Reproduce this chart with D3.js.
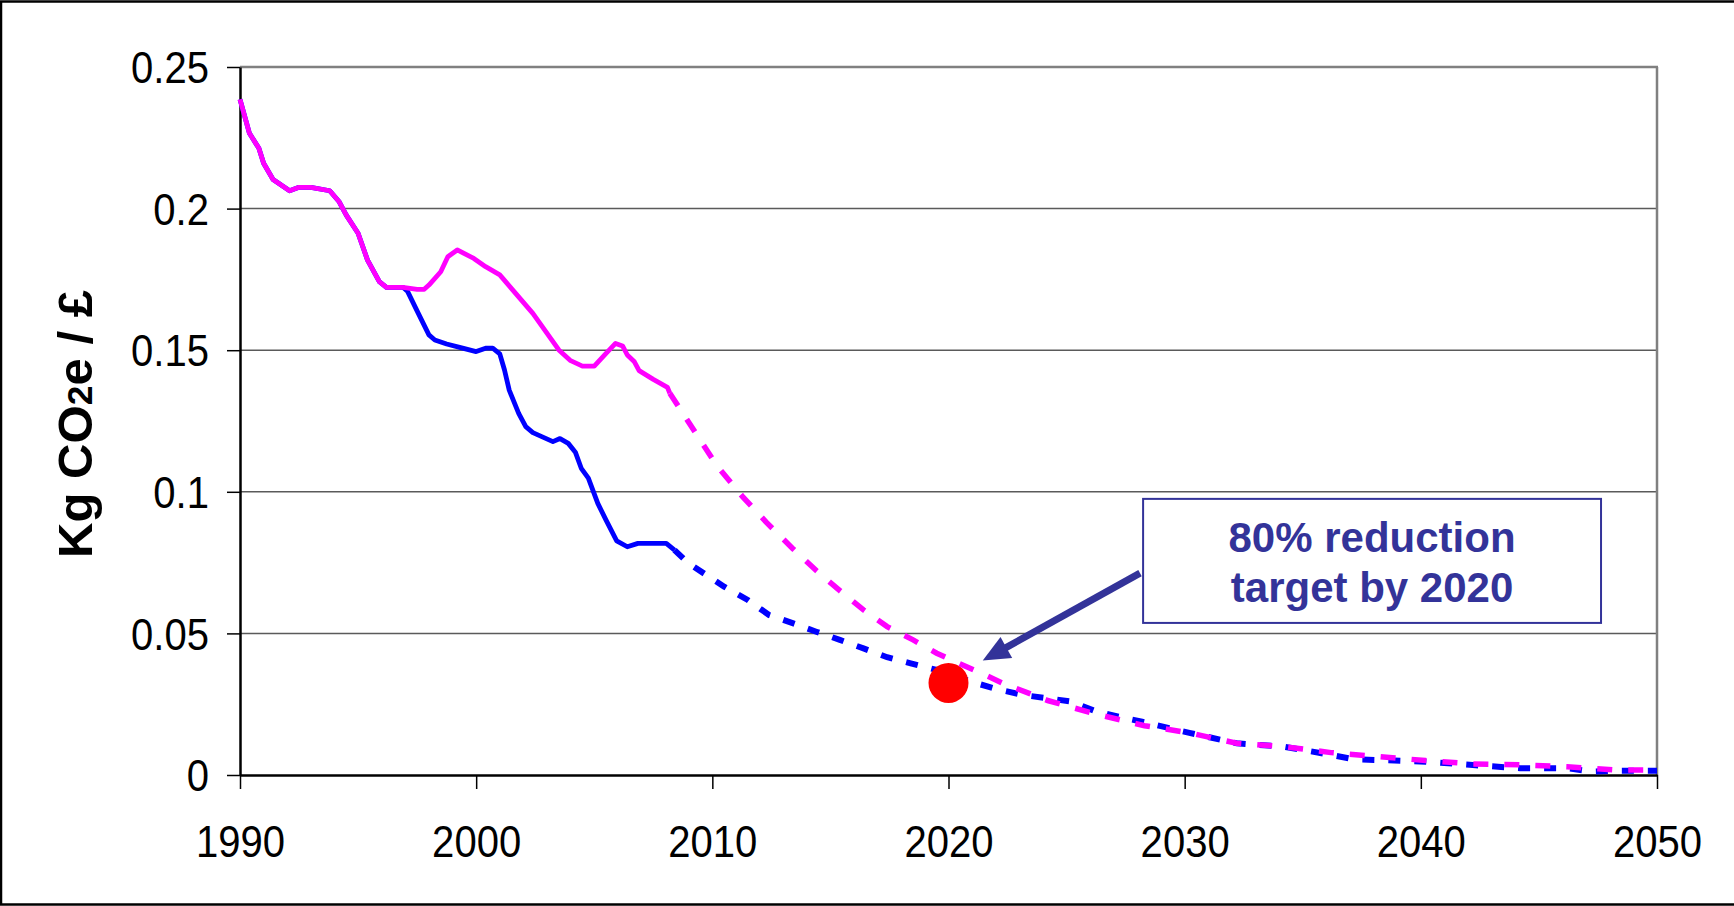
<!DOCTYPE html>
<html><head><meta charset="utf-8">
<script src="https://cdn.jsdelivr.net/npm/d3@7"></script>
<style>html,body{margin:0;padding:0;background:#fff;overflow:hidden}</style>
</head><body>
<svg id="chart" width="1734" height="906"></svg>
<script>
// ---- data ----
const xTicks = [1990, 2000, 2010, 2020, 2030, 2040, 2050];
const yTicks = [0, 0.05, 0.1, 0.15, 0.2, 0.25];
const yTickLabels = ["0", "0.05", "0.1", "0.15", "0.2", "0.25"];

const magentaHistYears = [1990.0,1990.4,1990.8,1991.0,1991.4,1992.1,1992.5,1993.0,1993.8,1994.2,1994.5,1995.0,1995.4,1995.9,1996.2,1996.9,1997.5,1997.8,1998.0,1998.5,1998.8,1999.2,1999.9,2000.4,2001.0,2002.4,2003.5,2004.0,2004.5,2005.0,2005.5,2005.9,2006.2,2006.4,2006.7,2006.9,2007.5,2008.1,2008.2];
const magentaHistValues = [0.2386,0.2266,0.2213,0.2160,0.2103,0.2063,0.2075,0.2075,0.2063,0.2024,0.1977,0.1913,0.1818,0.1742,0.1722,0.1722,0.1715,0.1715,0.1730,0.1777,0.1830,0.1854,0.1824,0.1795,0.1766,0.1630,0.1501,0.1463,0.1444,0.1444,0.1489,0.1524,0.1515,0.1483,0.1459,0.1428,0.1397,0.1369,0.1348];

const magentaProjYears = [2008.2,2008.8,2010.2,2011.3,2012.3,2013.4,2014.4,2015.4,2016.4,2017.4,2018.5,2019.5,2020.5,2021.4,2022.3,2024.2,2026.2,2028.3,2030.2,2032.2,2034.2,2036.2,2038.2,2040.2,2042.2,2044.2,2046.2,2048.2,2050.0];
const magentaProjValues = [0.1348,0.1271,0.1091,0.0981,0.0891,0.0800,0.0722,0.0651,0.0583,0.0524,0.0477,0.0430,0.0392,0.0359,0.0324,0.0263,0.0216,0.0174,0.0149,0.0112,0.0100,0.0079,0.0065,0.0051,0.0039,0.0036,0.0029,0.0018,0.0018];

const blueHistYears = [1990.0,1990.4,1990.8,1991.0,1991.4,1992.1,1992.5,1993.0,1993.8,1994.2,1994.5,1995.0,1995.4,1995.9,1996.2,1996.9,1997.1,1997.55,1998.0,1998.25,1998.75,1999.3,2000.0,2000.4,2000.7,2001.0,2001.2,2001.4,2001.8,2002.1,2002.4,2003.25,2003.55,2003.9,2004.2,2004.45,2004.75,2005.15,2005.5,2005.95,2006.4,2006.85,2008.05,2008.4];
const blueHistValues = [0.2386,0.2266,0.2213,0.2160,0.2103,0.2063,0.2075,0.2075,0.2063,0.2024,0.1977,0.1913,0.1818,0.1742,0.1722,0.1722,0.1707,0.1630,0.1554,0.1536,0.1522,0.1510,0.1495,0.1507,0.1507,0.1487,0.1430,0.1359,0.1277,0.1230,0.1209,0.1177,0.1188,0.1171,0.1140,0.1083,0.1048,0.0959,0.0900,0.0827,0.0806,0.0818,0.0818,0.0794];

const blueProjYears = [2008.4,2009.0,2010.5,2011.5,2012.4,2013.4,2014.4,2015.4,2016.4,2017.4,2018.4,2019.5,2021.1,2022.1,2023.2,2024.2,2025.2,2026.2,2027.2,2028.2,2030.2,2032.2,2034.2,2036.2,2037.2,2038.2,2040.2,2042.2,2044.2,2046.2,2047.2,2048.2,2050.0];
const blueProjValues = [0.0794,0.0747,0.0665,0.0618,0.0565,0.0536,0.0506,0.0477,0.0447,0.0416,0.0394,0.0371,0.0326,0.0302,0.0282,0.0271,0.0259,0.0226,0.0206,0.0188,0.0149,0.0112,0.0100,0.0071,0.0055,0.0053,0.0047,0.0035,0.0024,0.0024,0.0012,0.0015,0.0015];

const targetYear = 2020;
const targetValue = 0.0325;
const annotationLines = ["80% reduction", "target by 2020"];
const yTitle = ["Kg CO", "2", "e / £"];

// ---- layout ----
const svg = d3.select("#chart");
const W = 1734, H = 906;
const pLeft = 240, pRight = 1657, pTop = 67, pBottom = 775;
const x = d3.scaleLinear().domain([1990, 2050]).range([pLeft, pRight]);
const y = d3.scaleLinear().domain([0, 0.25]).range([pBottom, pTop]);
const FONT = "'Liberation Sans', Arial, Helvetica, sans-serif";

svg.append("rect").attr("width", W).attr("height", H).attr("fill", "#fff");
// outer frame
svg.append("rect").attr("x", 1).attr("y", 1.5).attr("width", W + 10).attr("height", H - 3)
  .attr("fill", "none").attr("stroke", "#000").attr("stroke-width", 2.5);

// gridlines
svg.append("g").selectAll("line").data(yTicks.filter(d => d > 0 && d < 0.25)).join("line")
  .attr("x1", pLeft).attr("x2", pRight).attr("y1", d => y(d)).attr("y2", d => y(d))
  .attr("stroke", "#5a5a5a").attr("stroke-width", 1.5);
// top and right border of plot area
svg.append("line").attr("x1", pLeft).attr("x2", pRight + 1).attr("y1", y(0.25)).attr("y2", y(0.25))
  .attr("stroke", "#808080").attr("stroke-width", 2.5);
svg.append("line").attr("x1", pRight).attr("x2", pRight).attr("y1", y(0.25)).attr("y2", y(0))
  .attr("stroke", "#808080").attr("stroke-width", 2.5);

// axes
const xAxis = svg.append("g").attr("transform", `translate(0,${pBottom})`)
  .call(d3.axisBottom(x).tickValues(xTicks).tickSize(14).tickSizeOuter(0).tickFormat(d3.format("d")));
const yAxis = svg.append("g").attr("transform", `translate(${pLeft},0)`)
  .call(d3.axisLeft(y).tickValues(yTicks).tickSize(13).tickSizeOuter(0).tickFormat((d, i) => yTickLabels[i]));

[xAxis, yAxis].forEach(g => {
  g.select(".domain").attr("stroke", "#000").attr("stroke-width", 2.5);
  g.selectAll(".tick line").attr("stroke", "#000").attr("stroke-width", 1.5);
  g.selectAll(".tick text").attr("font-family", FONT).attr("font-size", 45).attr("fill", "#000");
});
xAxis.selectAll(".tick text").attr("y", 82).attr("dy", 0);
yAxis.selectAll(".tick text").attr("x", -31).attr("dy", "0.35em");
// narrow the tick labels a little
svg.selectAll(".tick text").each(function () {
  const len = this.getComputedTextLength();
  d3.select(this).attr("textLength", len * 0.89).attr("lengthAdjust", "spacingAndGlyphs");
});

// lines
const line = d3.line().x(d => x(d[0])).y(d => y(d[1])).curve(d3.curveLinear);
const zip = (a, b) => a.map((v, i) => [v, b[i]]);

svg.append("path").datum(zip(blueProjYears, blueProjValues)).attr("d", line)
  .attr("fill", "none").attr("stroke", "#0000ff").attr("stroke-width", 6)
  .attr("stroke-dasharray", "12,14");
svg.append("path").datum(zip(blueHistYears, blueHistValues)).attr("d", line)
  .attr("fill", "none").attr("stroke", "#0000ff").attr("stroke-width", 4.8)
  .attr("stroke-linejoin", "round");

// target dot
svg.append("circle").attr("cx", x(targetYear)).attr("cy", y(targetValue)).attr("r", 20)
  .attr("fill", "#ff0000");

svg.append("path").datum(zip(magentaProjYears, magentaProjValues)).attr("d", line)
  .attr("fill", "none").attr("stroke", "#ff00ff").attr("stroke-width", 5.5)
  .attr("stroke-dasharray", "15,16");
svg.append("path").datum(zip(magentaHistYears, magentaHistValues)).attr("d", line)
  .attr("fill", "none").attr("stroke", "#ff00ff").attr("stroke-width", 4.8)
  .attr("stroke-linejoin", "round");

// annotation box
const annColor = "#333399";
const box = { x0: 2028.24, x1: 2047.63, y0: 0.0975, y1: 0.0537 };
svg.append("rect").attr("x", x(box.x0)).attr("y", y(box.y0))
  .attr("width", x(box.x1) - x(box.x0)).attr("height", y(box.y1) - y(box.y0))
  .attr("fill", "#fff").attr("stroke", annColor).attr("stroke-width", 2);
const textX = (x(box.x0) + x(box.x1)) / 2;
const baseYs = [0.0787, 0.0611];
annotationLines.forEach((t, i) => {
  svg.append("text").attr("x", textX).attr("y", y(baseYs[i])).attr("text-anchor", "middle")
    .attr("font-family", FONT).attr("font-weight", "bold").attr("font-size", 42)
    .attr("fill", annColor).text(t);
});

// arrow
const arrowStart = [2028.11, 0.0713], arrowTip = [2021.45, 0.0404];
const sx = x(arrowStart[0]), sy = y(arrowStart[1]), tx = x(arrowTip[0]), ty = y(arrowTip[1]);
const adx = tx - sx, ady = ty - sy, aL = Math.hypot(adx, ady);
const ux = adx / aL, uy = ady / aL, px = -uy, py = ux;
const headL = 27, headW = 12;
const bx = tx - ux * headL, by = ty - uy * headL;
svg.append("line").attr("x1", sx).attr("y1", sy).attr("x2", bx + ux * 2).attr("y2", by + uy * 2)
  .attr("stroke", annColor).attr("stroke-width", 7);
svg.append("polygon")
  .attr("points", [[tx, ty], [bx + px * headW, by + py * headW], [bx - px * headW, by - py * headW]].map(p => p.join(",")).join(" "))
  .attr("fill", annColor);

// y-axis title
const yt = svg.append("text").attr("font-family", FONT).attr("font-weight", "bold")
  .attr("font-size", 48).attr("fill", "#000").attr("text-anchor", "middle");
yt.append("tspan").text(yTitle[0]);
yt.append("tspan").attr("font-size", "72%").text(yTitle[1]);
yt.append("tspan").text(yTitle[2]);
const natural = yt.node().getComputedTextLength();
const k = 268 / natural;
yt.attr("transform", `translate(92,${(pTop + pBottom) / 2 + 3}) rotate(-90) scale(${k},1)`);
</script>
</body></html>
